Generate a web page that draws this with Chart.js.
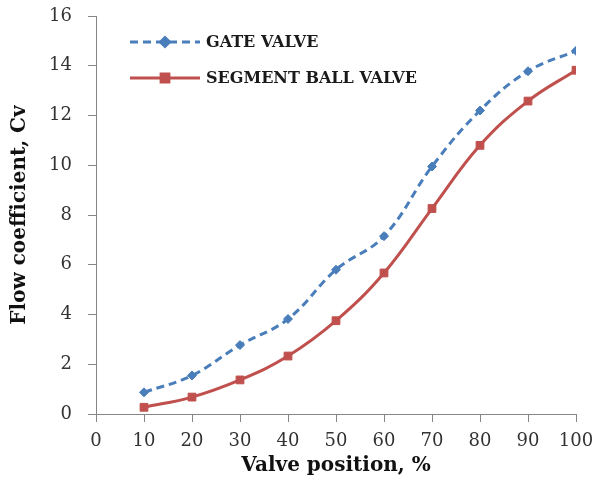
<!DOCTYPE html>
<html>
<head>
<meta charset="utf-8">
<script src="https://cdn.jsdelivr.net/npm/chart.js@4/dist/chart.umd.min.js"></script>
<style>
  html, body { margin: 0; padding: 0; background: #fff; }
  #wrap { width: 597px; height: 484px; }
</style>
</head>
<body>
<div id="wrap"><canvas id="canvas-cv"></canvas></div>
<script>
// valve opening, % and measured flow coefficients
const positions = [10, 20, 30, 40, 50, 60, 70, 80, 90, 100];
const gateCv = [0.87, 1.55, 2.77, 3.82, 5.8, 7.15, 9.95, 12.2, 13.78, 14.6];
const segmentCv = [0.27, 0.68, 1.37, 2.33, 3.75, 5.67, 8.26, 10.8, 12.58, 13.82];
const seriesNames = ['GATE VALVE', 'SEGMENT BALL VALVE'];

const BLUE = '#4a7ebb';
const RED = '#c0504d';
const AXIS = '#868686';

const toPoints = (ys) => positions.map((x, i) => ({ x: x, y: ys[i] }));

// keep the plot box fixed, labels may hang into the margins
const noLabelPadding = (scale) => {
    scale.paddingTop = 0;
    scale.paddingBottom = 0;
    scale.paddingLeft = 0;
    scale.paddingRight = 0;
};

// legend drawn inside the plot: line sample with marker, then bold label
const insideLegend = {
    id: 'insideLegend',
    afterDraw(chart) {
        const ctx = chart.ctx;
        const rows = [42, 78];
        chart.data.datasets.forEach((ds, i) => {
            const y = rows[i];
            ctx.save();
            ctx.strokeStyle = ds.borderColor;
            ctx.lineWidth = ds.borderWidth;
            ctx.setLineDash(ds.borderDash || []);
            ctx.beginPath();
            ctx.moveTo(130, y);
            ctx.lineTo(200, y);
            ctx.stroke();
            ctx.setLineDash([]);
            Chart.helpers.drawPoint(ctx, {
                pointStyle: ds.pointStyle,
                radius: ds.pointRadius,
                borderWidth: 1
            }, 165, y);
            ctx.fillStyle = ds.pointBackgroundColor;
            ctx.fill();
            ctx.fillStyle = '#1a1a1a';
            ctx.font = 'bold 16px "DejaVu Serif"';
            ctx.textBaseline = 'middle';
            ctx.fillText(ds.label, 206, y + 1);
            ctx.restore();
        });
    }
};

const chartConfig = {
    type: 'line',
    data: {
        datasets: [
            {
                label: seriesNames[0],
                data: toPoints(gateCv),
                borderColor: BLUE,
                borderWidth: 3,
                borderDash: [8, 5],
                pointStyle: 'rectRot',
                pointRadius: 4.5,
                pointBackgroundColor: BLUE,
                pointBorderColor: BLUE,
                pointBorderWidth: 1,
                tension: 0.4
            },
            {
                label: seriesNames[1],
                data: toPoints(segmentCv),
                borderColor: RED,
                borderWidth: 3,
                pointStyle: 'rect',
                pointRadius: 5.5,
                pointBackgroundColor: RED,
                pointBorderColor: RED,
                pointBorderWidth: 1,
                tension: 0.4
            }
        ]
    },
    options: {
        responsive: true,
        maintainAspectRatio: false,
        animation: false,
        layout: {
            padding: { top: 16, right: 21, left: 0, bottom: 0 }
        },
        scales: {
            x: {
                type: 'linear',
                min: 0,
                max: 100,
                afterFit: (scale) => { scale.height = 70; noLabelPadding(scale); },
                ticks: {
                    stepSize: 10,
                    padding: 9,
                    color: '#333',
                    font: { family: '"DejaVu Serif"', size: 18 }
                },
                grid: {
                    drawOnChartArea: false,
                    drawTicks: true,
                    tickLength: 8,
                    color: AXIS
                },
                border: { color: AXIS, width: 1 },
                title: {
                    display: true,
                    text: 'Valve position, %',
                    color: '#111',
                    padding: { top: 0, bottom: 6 },
                    font: { family: '"DejaVu Serif"', size: 20, weight: 'bold' }
                }
            },
            y: {
                min: 0,
                max: 16,
                afterFit: (scale) => { scale.width = 96; noLabelPadding(scale); },
                ticks: {
                    stepSize: 2,
                    padding: 16,
                    color: '#333',
                    font: { family: '"DejaVu Serif"', size: 18 }
                },
                grid: {
                    drawOnChartArea: false,
                    drawTicks: true,
                    tickLength: 8,
                    color: AXIS
                },
                border: { color: AXIS, width: 1 },
                title: {
                    display: true,
                    text: 'Flow coefficient, Cv',
                    color: '#111',
                    padding: { top: 8, bottom: 0 },
                    font: { family: '"DejaVu Serif"', size: 20, weight: 'bold' }
                }
            }
        },
        plugins: {
            legend: { display: false },
            tooltip: { enabled: false }
        }
    },
    plugins: [insideLegend]
};

const cvChart = new Chart(document.getElementById('canvas-cv').getContext('2d'), chartConfig);
</script>
</body>
</html>
